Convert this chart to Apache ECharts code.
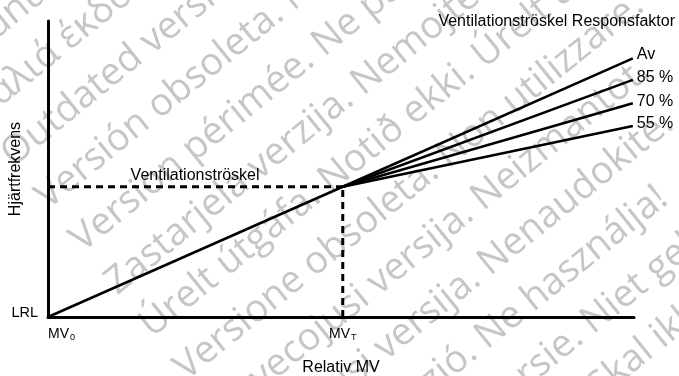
<!DOCTYPE html>
<html>
<head>
<meta charset="utf-8">
<script src="https://cdn.jsdelivr.net/npm/echarts@6/dist/echarts.min.js"></script>
<style>
  html, body { margin: 0; padding: 0; background: #fff; }
  #chart { width: 679px; height: 376px; }
</style>
</head>
<body>
<div id="chart"></div>
<script>
// threshold point and the end of the response lines (axis runs 0..100)
const thresholdX = 50.3;
const thresholdY = 44;
const endX = 99.8;
const responseNames = ['Av', '85 %', '70 %', '55 %'];
const responseEndY = [87.4, 80.1, 72.2, 64.5];
const xTickValues = [0, thresholdX];
const xTickSubs = ['0', 'T'];
const yTickValues = [0];
const yTickLabels = ['LRL'];

const watermarkLines = [
  'Aegunud versioon. Ärge kasutage. Aegunud versioon.',
  'Παλιά έκδοση. Μην την χρησιμοποιείτε.',
  'Outdated version. Do not use. Outdated version.',
  'Versión obsoleta. No utilizar. Versión obsoleta.',
  'Version périmée. Ne pas utiliser. Version périmée.',
  'Zastarjela verzija. Nemojte upotrebljavati.',
  'Úrelt útgáfa. Notið ekki. Úrelt útgáfa.',
  'Versione obsoleta. Non utilizzare.',
  'Novecojusi versija. Neizmantot.',
  'Pasenusi versija. Nenaudokite.',
  'Elavult verzió. Ne használja!',
  'Verouderde versie. Niet gebruiken.',
  'Utdatert versjon. Skal ikke brukes.',
  'Zastaraná verzia. Nepoužívať.'
];

const font = 'Liberation Sans, Arial, sans-serif';
const chart = echarts.init(document.getElementById('chart'));

const wmAngle = 39 * Math.PI / 180;
const wmLine = 55;

const series = [
  {
    name: 'base',
    type: 'line',
    data: [[0, 0], [thresholdX, thresholdY]],
    symbol: 'none',
    lineStyle: { color: '#000', width: 2.5 },
    z: 5
  },
  {
    name: 'threshold-h',
    type: 'line',
    data: [[0, thresholdY], [thresholdX, thresholdY]],
    symbol: 'none',
    lineStyle: { color: '#000', width: 3, type: [7, 5] },
    markPoint: {
      symbol: 'circle',
      symbolSize: 0,
      data: [{ coord: [25.1, thresholdY] }],
      label: {
        show: true,
        position: 'top',
        distance: 3,
        formatter: 'Ventilationströskel',
        color: '#000',
        fontSize: 16,
        fontFamily: font
      }
    },
    z: 4
  },
  {
    name: 'threshold-v',
    type: 'line',
    data: [[thresholdX, 0], [thresholdX, thresholdY]],
    symbol: 'none',
    lineStyle: { color: '#000', width: 3, type: [7, 5] },
    z: 4
  }
];

responseNames.forEach((name, i) => {
  series.push({
    name: name,
    type: 'line',
    data: [[thresholdX, thresholdY], [endX, responseEndY[i]]],
    symbol: 'none',
    lineStyle: { color: '#000', width: 2.5 },
    endLabel: {
      show: true,
      formatter: '{a}',
      color: '#000',
      fontSize: 16,
      fontFamily: font,
      distance: 4,
      offset: [0, i === 0 ? -4 : -2]
    },
    z: 5
  });
});

chart.setOption({
  animation: false,
  backgroundColor: '#fff',
  title: {
    text: 'Ventilationströskel Responsfaktor',
    right: 4,
    top: 14,
    padding: 0,
    textStyle: { fontSize: 16, fontWeight: 'normal', color: '#000', fontFamily: font, lineHeight: 16 }
  },
  graphic: [{
    type: 'text',
    x: -80,
    y: 52,
    rotation: wmAngle,
    z: -10,
    silent: true,
    style: {
      text: watermarkLines.join('\n'),
      fill: '#c6c6c6',
      font: '38px "Open Sans", sans-serif',
      lineHeight: wmLine,
      align: 'left',
      verticalAlign: 'top'
    }
  }],
  grid: { left: 48, right: 45, top: 21, bottom: 59, outerBoundsMode: 'none', containLabel: false },
  xAxis: {
    type: 'value',
    min: 0,
    max: 100,
    name: 'Relativ MV',
    nameLocation: 'middle',
    nameGap: 43,
    nameMoveOverlap: false,
    nameTextStyle: { fontSize: 16, color: '#000', fontFamily: font },
    axisLine: { show: true, lineStyle: { color: '#000', width: 3 } },
    axisTick: { show: false },
    splitLine: { show: false },
    axisLabel: {
      customValues: xTickValues,
      alignMinLabel: 'left',
      margin: 9,
      formatter: (v) => '{m|MV}{s|' + xTickSubs[xTickValues.indexOf(v)] + '}',
      rich: {
        m: { fontSize: 14, color: '#000', fontFamily: font, lineHeight: 16 },
        s: { fontSize: 9, color: '#000', fontFamily: font, lineHeight: 16, padding: [8, 0, 0, 1] }
      }
    }
  },
  yAxis: {
    type: 'value',
    min: 0,
    max: 100,
    name: 'Hjärtfrekvens',
    nameLocation: 'middle',
    nameGap: 24,
    nameMoveOverlap: false,
    nameTextStyle: { fontSize: 16, color: '#000', fontFamily: font },
    axisLine: { show: true, lineStyle: { color: '#000', width: 3 } },
    axisTick: { show: false },
    splitLine: { show: false },
    axisLabel: {
      customValues: yTickValues,
      formatter: (v) => yTickLabels[yTickValues.indexOf(v)],
      margin: 10,
      fontSize: 14.5,
      color: '#000',
      fontFamily: font,
      verticalAlign: 'bottom',
      lineHeight: 8
    }
  },
  series: series
});
</script>
</body>
</html>
